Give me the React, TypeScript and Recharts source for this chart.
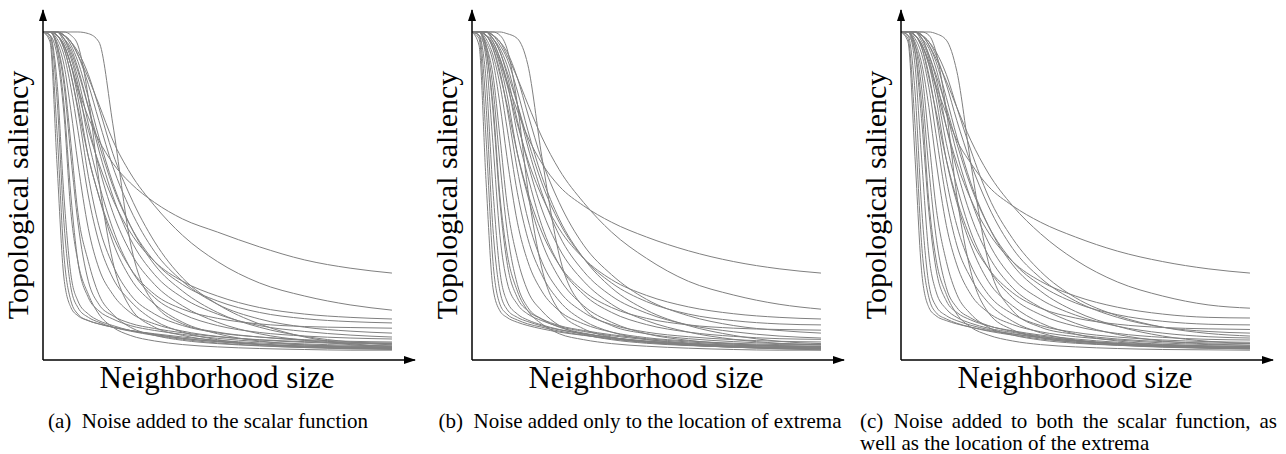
import React from 'react';
import { LineChart, Line, XAxis, YAxis, ReferenceDot } from 'recharts';

// Normalised neighborhood sizes at which every curve is sampled
const SIZES = [0, 0.02, 0.04, 0.06, 0.08, 0.1, 0.13, 0.16, 0.2, 0.25, 0.32, 0.4, 0.5, 0.62, 0.75, 0.88, 1.0];

// (a) noise added to the scalar function: one saliency curve per extremum
const curvesA: number[][] = [
  [1, 0.97, 0.6, 0.25, 0.16, 0.135, 0.12, 0.11, 0.1, 0.09, 0.08, 0.07, 0.06, 0.052, 0.046, 0.042, 0.04],
  [1, 0.98, 0.7, 0.32, 0.18, 0.14, 0.12, 0.11, 0.1, 0.09, 0.078, 0.066, 0.056, 0.048, 0.042, 0.038, 0.036],
  [1, 0.99, 0.8, 0.42, 0.22, 0.16, 0.13, 0.115, 0.1, 0.088, 0.075, 0.063, 0.052, 0.044, 0.038, 0.034, 0.032],
  [1, 0.99, 0.85, 0.5, 0.26, 0.18, 0.14, 0.12, 0.105, 0.09, 0.078, 0.066, 0.056, 0.048, 0.043, 0.04, 0.038],
  [1, 1, 0.95, 0.78, 0.5, 0.3, 0.19, 0.15, 0.125, 0.105, 0.09, 0.078, 0.066, 0.056, 0.049, 0.045, 0.043],
  [1, 1, 0.96, 0.84, 0.62, 0.42, 0.24, 0.17, 0.135, 0.112, 0.096, 0.083, 0.071, 0.061, 0.054, 0.05, 0.048],
  [1, 0.99, 0.93, 0.75, 0.45, 0.3, 0.2, 0.14, 0.1, 0.075, 0.058, 0.047, 0.04, 0.035, 0.032, 0.03, 0.03],
  [1, 1, 0.96, 0.86, 0.66, 0.45, 0.3, 0.2, 0.14, 0.1, 0.075, 0.06, 0.05, 0.043, 0.038, 0.036, 0.035],
  [1, 1, 0.97, 0.9, 0.76, 0.6, 0.4, 0.28, 0.2, 0.145, 0.11, 0.088, 0.072, 0.062, 0.056, 0.052, 0.05],
  [1, 1, 0.98, 0.93, 0.83, 0.7, 0.5, 0.36, 0.25, 0.18, 0.12, 0.085, 0.062, 0.048, 0.04, 0.036, 0.035],
  [1, 1, 0.99, 0.95, 0.87, 0.76, 0.56, 0.41, 0.29, 0.2, 0.14, 0.105, 0.083, 0.07, 0.062, 0.057, 0.055],
  [1, 1, 0.99, 0.96, 0.9, 0.8, 0.62, 0.5, 0.36, 0.25, 0.17, 0.115, 0.08, 0.058, 0.046, 0.04, 0.037],
  [1, 1, 1, 0.97, 0.92, 0.84, 0.67, 0.54, 0.4, 0.28, 0.19, 0.14, 0.105, 0.084, 0.073, 0.067, 0.064],
  [1, 1, 1, 0.98, 0.93, 0.86, 0.72, 0.59, 0.45, 0.33, 0.23, 0.165, 0.115, 0.08, 0.06, 0.047, 0.042],
  [1, 1, 1, 0.98, 0.95, 0.89, 0.77, 0.64, 0.5, 0.37, 0.26, 0.19, 0.14, 0.105, 0.087, 0.076, 0.07],
  [1, 1, 1, 0.99, 0.96, 0.91, 0.8, 0.68, 0.54, 0.41, 0.29, 0.21, 0.145, 0.1, 0.072, 0.055, 0.046],
  [1, 1, 1, 0.99, 0.97, 0.93, 0.84, 0.73, 0.59, 0.46, 0.33, 0.24, 0.17, 0.125, 0.1, 0.088, 0.082],
  [1, 1, 1, 0.99, 0.97, 0.94, 0.87, 0.77, 0.63, 0.5, 0.36, 0.25, 0.17, 0.11, 0.07, 0.05, 0.04],
  [1, 1, 0.99, 0.96, 0.9, 0.83, 0.74, 0.67, 0.6, 0.54, 0.48, 0.43, 0.39, 0.345, 0.305, 0.28, 0.265],
  [1, 1, 1, 0.99, 0.97, 0.93, 0.86, 0.78, 0.67, 0.57, 0.47, 0.38, 0.3, 0.235, 0.195, 0.168, 0.152],
  [1, 1, 0.99, 0.96, 0.9, 0.82, 0.7, 0.6, 0.49, 0.39, 0.3, 0.24, 0.195, 0.16, 0.14, 0.13, 0.125],
  [1, 1, 1, 0.98, 0.94, 0.88, 0.77, 0.66, 0.53, 0.41, 0.3, 0.23, 0.18, 0.145, 0.126, 0.117, 0.113],
  [1, 1, 0.99, 0.95, 0.87, 0.77, 0.62, 0.5, 0.38, 0.28, 0.2, 0.155, 0.127, 0.11, 0.102, 0.099, 0.097],
  [1, 1, 1, 1, 1, 1, 0.995, 0.97, 0.72, 0.36, 0.17, 0.11, 0.085, 0.07, 0.06, 0.054, 0.052],
  [1, 1, 1, 1, 0.99, 0.96, 0.8, 0.55, 0.3, 0.16, 0.1, 0.075, 0.058, 0.047, 0.04, 0.036, 0.034],
];

// (b) noise added only to the location of the extrema
const curvesB: number[][] = [
  [1, 0.96, 0.55, 0.22, 0.15, 0.13, 0.115, 0.105, 0.095, 0.085, 0.075, 0.065, 0.055, 0.047, 0.041, 0.037, 0.035],
  [1, 0.98, 0.68, 0.3, 0.17, 0.14, 0.122, 0.11, 0.1, 0.088, 0.076, 0.064, 0.053, 0.045, 0.039, 0.035, 0.033],
  [1, 0.99, 0.78, 0.4, 0.21, 0.155, 0.13, 0.117, 0.104, 0.092, 0.08, 0.068, 0.058, 0.05, 0.045, 0.042, 0.04],
  [1, 0.99, 0.86, 0.52, 0.27, 0.18, 0.14, 0.122, 0.107, 0.093, 0.08, 0.068, 0.057, 0.048, 0.042, 0.038, 0.036],
  [1, 1, 0.92, 0.66, 0.38, 0.24, 0.17, 0.14, 0.12, 0.102, 0.087, 0.074, 0.062, 0.052, 0.045, 0.041, 0.039],
  [1, 1, 0.95, 0.76, 0.48, 0.3, 0.19, 0.15, 0.125, 0.105, 0.09, 0.077, 0.065, 0.055, 0.048, 0.044, 0.042],
  [1, 1, 0.96, 0.83, 0.6, 0.4, 0.23, 0.16, 0.125, 0.1, 0.082, 0.068, 0.056, 0.046, 0.039, 0.034, 0.031],
  [1, 0.99, 0.94, 0.78, 0.5, 0.33, 0.21, 0.15, 0.11, 0.08, 0.062, 0.05, 0.042, 0.036, 0.032, 0.03, 0.03],
  [1, 1, 0.96, 0.87, 0.68, 0.48, 0.31, 0.21, 0.15, 0.105, 0.078, 0.062, 0.051, 0.044, 0.04, 0.038, 0.037],
  [1, 1, 0.97, 0.91, 0.78, 0.62, 0.42, 0.3, 0.21, 0.15, 0.11, 0.085, 0.068, 0.058, 0.051, 0.047, 0.046],
  [1, 1, 0.98, 0.93, 0.84, 0.71, 0.51, 0.37, 0.26, 0.18, 0.12, 0.085, 0.063, 0.05, 0.042, 0.038, 0.037],
  [1, 1, 0.99, 0.95, 0.88, 0.77, 0.58, 0.43, 0.3, 0.21, 0.145, 0.108, 0.085, 0.071, 0.062, 0.057, 0.055],
  [1, 1, 0.99, 0.96, 0.9, 0.81, 0.63, 0.5, 0.36, 0.25, 0.165, 0.115, 0.08, 0.06, 0.049, 0.043, 0.041],
  [1, 1, 1, 0.97, 0.92, 0.85, 0.69, 0.56, 0.41, 0.29, 0.2, 0.145, 0.108, 0.085, 0.072, 0.065, 0.063],
  [1, 1, 1, 0.98, 0.94, 0.87, 0.73, 0.6, 0.46, 0.34, 0.24, 0.17, 0.12, 0.085, 0.063, 0.051, 0.046],
  [1, 1, 1, 0.98, 0.95, 0.9, 0.78, 0.65, 0.51, 0.38, 0.27, 0.195, 0.143, 0.107, 0.086, 0.073, 0.067],
  [1, 1, 1, 0.99, 0.96, 0.92, 0.82, 0.7, 0.56, 0.43, 0.31, 0.22, 0.152, 0.105, 0.075, 0.057, 0.05],
  [1, 1, 1, 0.99, 0.97, 0.94, 0.86, 0.75, 0.61, 0.48, 0.35, 0.26, 0.185, 0.135, 0.105, 0.09, 0.082],
  [1, 1, 0.99, 0.97, 0.92, 0.85, 0.76, 0.68, 0.6, 0.53, 0.47, 0.42, 0.375, 0.333, 0.3, 0.278, 0.265],
  [1, 1, 1, 0.99, 0.97, 0.93, 0.86, 0.78, 0.68, 0.58, 0.48, 0.39, 0.31, 0.24, 0.198, 0.17, 0.155],
  [1, 1, 0.99, 0.96, 0.91, 0.84, 0.72, 0.61, 0.5, 0.4, 0.31, 0.245, 0.197, 0.162, 0.141, 0.13, 0.125],
  [1, 1, 1, 0.98, 0.94, 0.88, 0.78, 0.67, 0.54, 0.42, 0.31, 0.235, 0.178, 0.14, 0.12, 0.11, 0.107],
  [1, 1, 0.99, 0.95, 0.87, 0.78, 0.63, 0.51, 0.39, 0.29, 0.21, 0.16, 0.127, 0.107, 0.097, 0.093, 0.091],
  [1, 1, 1, 1, 1, 0.995, 0.98, 0.9, 0.62, 0.32, 0.16, 0.105, 0.08, 0.065, 0.056, 0.05, 0.048],
  [1, 1, 1, 1, 0.99, 0.95, 0.78, 0.52, 0.28, 0.15, 0.095, 0.07, 0.055, 0.045, 0.039, 0.035, 0.034],
];

// (c) noise added to both the scalar function and the extrema locations
const curvesC: number[][] = [
  [1, 0.97, 0.62, 0.26, 0.16, 0.135, 0.12, 0.11, 0.1, 0.09, 0.079, 0.068, 0.058, 0.05, 0.044, 0.04, 0.038],
  [1, 0.98, 0.72, 0.34, 0.19, 0.145, 0.125, 0.112, 0.1, 0.088, 0.076, 0.064, 0.054, 0.046, 0.04, 0.036, 0.034],
  [1, 0.99, 0.82, 0.45, 0.23, 0.165, 0.135, 0.12, 0.106, 0.093, 0.08, 0.068, 0.057, 0.048, 0.042, 0.038, 0.036],
  [1, 1, 0.9, 0.6, 0.32, 0.21, 0.155, 0.13, 0.112, 0.097, 0.084, 0.071, 0.06, 0.051, 0.045, 0.041, 0.039],
  [1, 1, 0.94, 0.72, 0.45, 0.28, 0.18, 0.145, 0.122, 0.104, 0.089, 0.076, 0.064, 0.054, 0.047, 0.043, 0.041],
  [1, 1, 0.96, 0.82, 0.58, 0.38, 0.22, 0.16, 0.128, 0.105, 0.087, 0.073, 0.06, 0.05, 0.043, 0.038, 0.035],
  [1, 0.99, 0.94, 0.77, 0.48, 0.31, 0.2, 0.14, 0.1, 0.076, 0.058, 0.047, 0.04, 0.035, 0.032, 0.031, 0.03],
  [1, 1, 0.96, 0.87, 0.67, 0.47, 0.3, 0.2, 0.14, 0.1, 0.076, 0.061, 0.051, 0.045, 0.041, 0.039, 0.038],
  [1, 1, 0.97, 0.9, 0.77, 0.61, 0.41, 0.29, 0.2, 0.145, 0.108, 0.086, 0.071, 0.061, 0.052, 0.047, 0.045],
  [1, 1, 0.98, 0.93, 0.83, 0.69, 0.49, 0.35, 0.25, 0.175, 0.118, 0.083, 0.061, 0.048, 0.041, 0.037, 0.036],
  [1, 1, 0.99, 0.95, 0.87, 0.75, 0.55, 0.41, 0.29, 0.2, 0.14, 0.105, 0.084, 0.07, 0.061, 0.056, 0.054],
  [1, 1, 0.99, 0.96, 0.9, 0.8, 0.61, 0.48, 0.35, 0.24, 0.165, 0.113, 0.079, 0.058, 0.048, 0.043, 0.041],
  [1, 1, 1, 0.97, 0.92, 0.83, 0.66, 0.53, 0.39, 0.28, 0.19, 0.138, 0.103, 0.081, 0.069, 0.063, 0.061],
  [1, 1, 1, 0.98, 0.93, 0.86, 0.71, 0.58, 0.44, 0.32, 0.22, 0.16, 0.112, 0.078, 0.058, 0.049, 0.045],
  [1, 1, 1, 0.98, 0.95, 0.89, 0.76, 0.63, 0.49, 0.36, 0.25, 0.185, 0.137, 0.103, 0.082, 0.071, 0.067],
  [1, 1, 1, 0.99, 0.96, 0.91, 0.8, 0.68, 0.54, 0.41, 0.29, 0.21, 0.148, 0.103, 0.073, 0.057, 0.05],
  [1, 1, 1, 0.99, 0.97, 0.93, 0.84, 0.73, 0.6, 0.47, 0.34, 0.25, 0.18, 0.13, 0.1, 0.087, 0.082],
  [1, 1, 1, 0.99, 0.97, 0.94, 0.87, 0.77, 0.64, 0.5, 0.37, 0.27, 0.19, 0.135, 0.1, 0.081, 0.073],
  [1, 1, 0.99, 0.96, 0.91, 0.84, 0.75, 0.67, 0.6, 0.53, 0.47, 0.42, 0.375, 0.332, 0.3, 0.278, 0.265],
  [1, 1, 1, 0.99, 0.96, 0.92, 0.85, 0.77, 0.67, 0.57, 0.47, 0.385, 0.305, 0.238, 0.195, 0.168, 0.158],
  [1, 1, 0.99, 0.96, 0.9, 0.83, 0.71, 0.6, 0.49, 0.39, 0.3, 0.24, 0.195, 0.161, 0.14, 0.13, 0.128],
  [1, 1, 1, 0.98, 0.93, 0.87, 0.77, 0.66, 0.53, 0.41, 0.3, 0.228, 0.174, 0.138, 0.118, 0.109, 0.107],
  [1, 1, 0.99, 0.95, 0.86, 0.76, 0.61, 0.49, 0.37, 0.28, 0.205, 0.158, 0.128, 0.109, 0.099, 0.095, 0.093],
  [1, 1, 1, 1, 1, 0.995, 0.975, 0.88, 0.6, 0.3, 0.15, 0.1, 0.078, 0.064, 0.056, 0.052, 0.05],
  [1, 1, 1, 1, 0.99, 0.94, 0.76, 0.5, 0.27, 0.145, 0.092, 0.068, 0.054, 0.045, 0.039, 0.036, 0.034],
];

const X_TITLE = 'Neighborhood size';
const Y_TITLE = 'Topological saliency';
const CAPTION_A = '(a)\u2002Noise added to the scalar function';
const CAPTION_B = '(b)\u2002Noise added only to the location of extrema';
const CAPTION_C1 = '(c)\u2002Noise added to both the scalar function, as';
const CAPTION_C2 = 'well as the location of the extrema';

// Axis extents beyond the data range, where the arrowheads sit
const X_MAX = 1.066;
const Y_MAX = 1.067;

const SERIF = '"Liberation Serif", "Times New Roman", Times, serif';
const CURVE_COLOR = '#808080';

function toRows(curves: number[][]) {
  return SIZES.map((x, i) => {
    const row: Record<string, number> = { x };
    curves.forEach((c, k) => {
      row['s' + k] = c[i];
    });
    return row;
  });
}

const ArrowRight = (p: any) => (
  <polygon
    points={`${p.cx + 1},${p.cy} ${p.cx - 11},${p.cy - 4} ${p.cx - 11},${p.cy + 4}`}
    fill="#000"
  />
);

const ArrowUp = (p: any) => (
  <polygon
    points={`${p.cx},${p.cy - 1} ${p.cx - 4},${p.cy + 11} ${p.cx + 4},${p.cy + 11}`}
    fill="#000"
  />
);

function Panel({ curves, left }: { curves: number[][]; left: number }) {
  const rows = toRows(curves);
  return (
    <div style={{ position: 'absolute', left, top: 0 }}>
      <LineChart width={430} height={364} data={rows} margin={{ top: 10, right: 15, bottom: 3, left: 42 }}>
        <XAxis
          type="number"
          dataKey="x"
          domain={[0, X_MAX]}
          allowDataOverflow
          tick={false}
          tickLine={false}
          height={1}
          axisLine={{ stroke: '#000', strokeWidth: 1.5 }}
        />
        <YAxis
          type="number"
          domain={[0, Y_MAX]}
          allowDataOverflow
          tick={false}
          tickLine={false}
          width={1}
          axisLine={{ stroke: '#000', strokeWidth: 1.5 }}
        />
        {curves.map((_, k) => (
          <Line
            key={k}
            dataKey={'s' + k}
            type="monotone"
            stroke={CURVE_COLOR}
            strokeWidth={1}
            dot={false}
            activeDot={false}
            isAnimationActive={false}
          />
        ))}
        <ReferenceDot x={X_MAX} y={0} r={1} shape={ArrowRight} ifOverflow="visible" />
        <ReferenceDot x={0} y={Y_MAX} r={1} shape={ArrowUp} ifOverflow="visible" />
      </LineChart>
      <div
        style={{
          position: 'absolute',
          left: 217 - 160,
          top: 362,
          width: 320,
          textAlign: 'center',
          fontFamily: SERIF,
          fontSize: 31,
          lineHeight: '31px',
          whiteSpace: 'nowrap',
        }}
      >
        {X_TITLE}
      </div>
      <div
        style={{
          position: 'absolute',
          left: 18 - 160,
          top: 195 - 17,
          width: 320,
          height: 34,
          textAlign: 'center',
          fontFamily: SERIF,
          fontSize: 30,
          lineHeight: '34px',
          whiteSpace: 'nowrap',
          transform: 'rotate(-90deg)',
        }}
      >
        {Y_TITLE}
      </div>
    </div>
  );
}

const captionStyle: React.CSSProperties = {
  position: 'absolute',
  fontFamily: SERIF,
  fontSize: 21,
  lineHeight: '22px',
  whiteSpace: 'nowrap',
};

export default function App() {
  return (
    <div
      style={{
        position: 'absolute',
        left: 0,
        top: 0,
        width: 1286,
        height: 454,
        background: '#fff',
        overflow: 'hidden',
      }}
    >
      <Panel curves={curvesA} left={0} />
      <Panel curves={curvesB} left={429} />
      <Panel curves={curvesC} left={858} />
      <div style={{ ...captionStyle, left: 0, top: 410, width: 416, textAlign: 'center' }}>{CAPTION_A}</div>
      <div style={{ ...captionStyle, left: 430, top: 410, width: 420, textAlign: 'center' }}>{CAPTION_B}</div>
      <div
        style={{
          ...captionStyle,
          left: 860,
          top: 410,
          width: 417,
          textAlign: 'justify',
          textAlignLast: 'justify',
          whiteSpace: 'normal',
        }}
      >
        {CAPTION_C1}
      </div>
      <div style={{ ...captionStyle, left: 860, top: 432 }}>{CAPTION_C2}</div>
    </div>
  );
}
